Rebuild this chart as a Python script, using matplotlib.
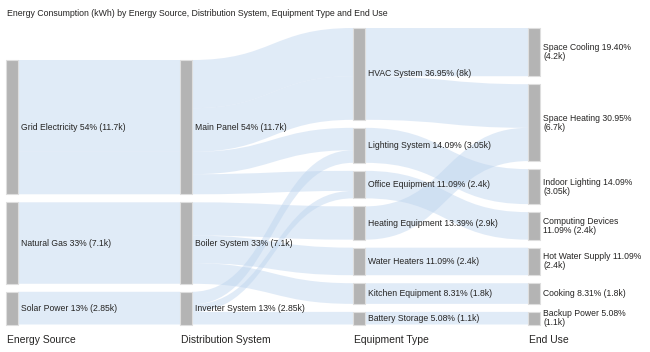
import textwrap
import matplotlib
matplotlib.use('Agg')
import matplotlib.pyplot as plt
from matplotlib.path import Path
from matplotlib.patches import PathPatch, Rectangle

plt.rcParams['font.family'] = ['Liberation Sans', 'DejaVu Sans']

# nodes, one list per column (top to bottom)
energy_source = ['Grid Electricity', 'Natural Gas', 'Solar Power']
distribution = ['Main Panel', 'Boiler System', 'Inverter System']
equipment = ['HVAC System', 'Lighting System', 'Office Equipment', 'Heating Equipment',
             'Water Heaters', 'Kitchen Equipment', 'Battery Storage']
end_use = ['Space Cooling', 'Space Heating', 'Indoor Lighting', 'Computing Devices',
           'Hot Water Supply', 'Cooking', 'Backup Power']
column_titles = ['Energy Source', 'Distribution System', 'Equipment Type', 'End Use']

# links (source, target, thousand kWh)
source_to_dist = [('Grid Electricity', 'Main Panel', 8.0),
                  ('Grid Electricity', 'Main Panel', 3.7),
                  ('Natural Gas', 'Boiler System', 7.1),
                  ('Solar Power', 'Inverter System', 2.85)]
dist_to_equip = [('Main Panel', 'HVAC System', 4.2),
                 ('Main Panel', 'HVAC System', 3.8),
                 ('Main Panel', 'Lighting System', 1.95),
                 ('Main Panel', 'Office Equipment', 1.75),
                 ('Boiler System', 'Heating Equipment', 2.9),
                 ('Boiler System', 'Water Heaters', 2.4),
                 ('Boiler System', 'Kitchen Equipment', 1.8),
                 ('Inverter System', 'Lighting System', 1.1),
                 ('Inverter System', 'Office Equipment', 0.65),
                 ('Inverter System', 'Battery Storage', 1.1)]
equip_to_use = [('HVAC System', 'Space Cooling', 4.2),
                ('HVAC System', 'Space Heating', 3.8),
                ('Lighting System', 'Indoor Lighting', 3.05),
                ('Office Equipment', 'Computing Devices', 2.4),
                ('Heating Equipment', 'Space Heating', 2.9),
                ('Water Heaters', 'Hot Water Supply', 2.4),
                ('Kitchen Equipment', 'Cooking', 1.8),
                ('Battery Storage', 'Backup Power', 1.1)]

columns = [energy_source, distribution, equipment, end_use]
link_sets = [source_to_dist, dist_to_equip, equip_to_use]

# layout (pixels)
W, H = 650, 352
col_x = [6, 180, 353, 528]
node_w = 12
top, bottom, gap = 28, 324.5, 8
link_color = '#bcd3ee'
node_color = '#b4b4b4'
text_color = '#252423'

# node values
value = {}
for links in link_sets:
    for s, t, v in links:
        value.setdefault(('out', s), 0)
        value.setdefault(('in', t), 0)
        value[('out', s)] += v
        value[('in', t)] += v
node_val = {}
for col in columns:
    for n in col:
        node_val[n] = max(value.get(('out', n), 0), value.get(('in', n), 0))
total = sum(node_val[n] for n in energy_source)
max_nodes = max(len(c) for c in columns)
scale = (bottom - top - (max_nodes - 1) * gap) / total

# node positions (bottom aligned)
pos = {}
for ci, col in enumerate(columns):
    span = sum(node_val[n] for n in col) * scale + (len(col) - 1) * gap
    y = bottom - span
    for n in col:
        h = node_val[n] * scale
        pos[n] = (ci, y, y + h)
        y += h + gap

fig = plt.figure(figsize=(W / 100, H / 100), dpi=100)
ax = fig.add_axes([0, 0, 1, 1])
ax.set_xlim(0, W)
ax.set_ylim(H, 0)
ax.axis('off')

# links
for li, links in enumerate(link_sets):
    src_col, dst_col = columns[li], columns[li + 1]
    order = list(range(len(links)))
    out_off = {n: pos[n][1] for n in src_col}
    in_off = {n: pos[n][1] for n in dst_col}
    out_y, in_y = {}, {}
    for k in sorted(order, key=lambda k: (src_col.index(links[k][0]), dst_col.index(links[k][1]), k)):
        s, t, v = links[k]
        out_y[k] = out_off[s]
        out_off[s] += v * scale
    for k in sorted(order, key=lambda k: (dst_col.index(links[k][1]), src_col.index(links[k][0]), k)):
        s, t, v = links[k]
        in_y[k] = in_off[t]
        in_off[t] += v * scale
    x0 = col_x[li] + node_w
    x1 = col_x[li + 1]
    xm = (x0 + x1) / 2
    for k in order:
        v = links[k][2] * scale
        a, b = out_y[k], in_y[k]
        verts = [(x0, a), (xm, a), (xm, b), (x1, b), (x1, b + v),
                 (xm, b + v), (xm, a + v), (x0, a + v), (x0, a)]
        codes = [Path.MOVETO, Path.CURVE4, Path.CURVE4, Path.CURVE4, Path.LINETO,
                 Path.CURVE4, Path.CURVE4, Path.CURVE4, Path.CLOSEPOLY]
        ax.add_patch(PathPatch(Path(verts, codes), facecolor=link_color, alpha=0.45,
                               edgecolor='none', zorder=1))

# nodes and labels
for ci, col in enumerate(columns):
    for n in col:
        _, y0, y1 = pos[n]
        ax.add_patch(Rectangle((col_x[ci], y0), node_w, y1 - y0, facecolor=node_color,
                               edgecolor='#dedede', linewidth=0.8, zorder=2))
        pct = node_val[n] / total * 100
        if ci < 2:
            label = f'{n} {pct:.0f}% ({node_val[n]:g}k)'
        else:
            label = f'{n} {pct:.2f}% ({node_val[n]:g}k)'
        if ci == 3:
            label = textwrap.fill(label, 23)
        ax.text(col_x[ci] + node_w + 3, (y0 + y1) / 2, label, fontsize=6.2,
                color=text_color, va='center', ha='left', linespacing=1.0, zorder=3)
    ax.text(col_x[ci] + 1, 340, column_titles[ci], fontsize=7.5, color=text_color,
            va='center', ha='left')

ax.text(7, 13, 'Energy Consumption (kWh) by Energy Source, Distribution System, Equipment Type and End Use',
        fontsize=6.3, color=text_color, va='center', ha='left')

fig.savefig('out.png', dpi=100)
